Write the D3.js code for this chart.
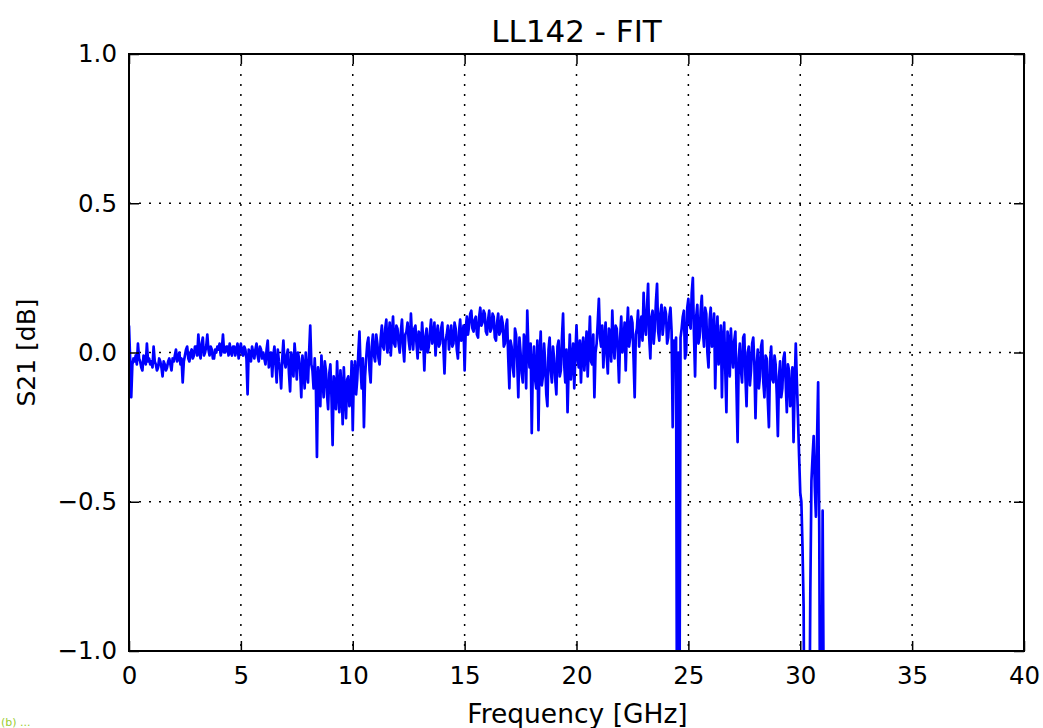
<!DOCTYPE html>
<html>
<head>
<meta charset="utf-8">
<script src="https://cdn.jsdelivr.net/npm/d3@7/dist/d3.min.js"></script>
<style>
  html, body { margin: 0; padding: 0; background: #fff; }
  svg { display: block; }
  text { font-family: "DejaVu Sans", sans-serif; }
</style>
</head>
<body>
<svg id="chart" width="1043" height="728"></svg>
<script>
// ---- data ----
const title = "LL142 - FIT";
const xLabel = "Frequency [GHz]";
const yLabel = "S21 [dB]";
const xTicks = [0, 5, 10, 15, 20, 25, 30, 35, 40];
const yTicks = [-1.0, -0.5, 0.0, 0.5, 1.0];
const freqStart = 0.0;   // GHz, sweep start
const freqStep = 0.05;   // GHz, sweep step
// S21 values in dB, one per sweep point (0.00 ... 31.20 GHz), 20 per GHz row
const s21 = [
  0.09, -0.02, -0.15, -0.04, -0.02, -0.03, -0.01, -0.04, 0.03, -0.02, -0.03, -0.05, -0.06, -0.01, -0.02, -0.04, 0.03, -0.03, -0.02, -0.04,
  -0.03, -0.05, 0.02, -0.03, -0.04, -0.06, -0.05, -0.02, -0.03, -0.05, -0.08, -0.03, -0.04, -0.06, -0.05, -0.03, -0.02, -0.04, -0.06, -0.02,
  -0.03, -0.01, 0.01, -0.03, -0.02, 0.00, -0.04, -0.02, -0.10, -0.03, -0.01, 0.01, 0.02, -0.02, -0.03, 0.00, 0.01, -0.02, -0.01, 0.02,
  0.02, -0.01, 0.06, 0.00, -0.02, 0.03, 0.05, -0.01, 0.00, 0.02, 0.06, 0.01, -0.01, 0.02, 0.01, -0.02, -0.02, 0.01, 0.00, 0.02,
  0.01, 0.03, -0.01, 0.01, 0.06, 0.00, 0.00, 0.02, 0.02, -0.01, 0.03, 0.00, -0.01, 0.02, 0.02, -0.01, 0.01, 0.03, -0.02, 0.01,
  0.03, 0.00, -0.01, 0.02, 0.01, -0.02, -0.14, 0.01, 0.00, -0.03, 0.02, 0.00, -0.02, 0.01, 0.03, -0.01, -0.03, 0.02, 0.01, -0.02,
  0.00, -0.02, -0.04, 0.01, 0.04, -0.05, -0.02, 0.00, -0.08, -0.01, 0.02, -0.04, -0.10, 0.01, -0.03, -0.06, -0.12, -0.02, 0.04, -0.03,
  -0.05, -0.01, 0.01, -0.07, -0.13, 0.00, -0.03, -0.08, 0.03, -0.02, -0.09, 0.00, -0.02, -0.06, -0.15, -0.01, -0.05, -0.12, 0.00, -0.07,
  -0.10, 0.00, 0.09, -0.04, -0.06, -0.12, -0.02, -0.10, -0.35, -0.05, -0.08, -0.18, -0.01, -0.09, -0.15, -0.03, -0.06, -0.14, -0.19, -0.07,
  -0.04, -0.15, -0.31, -0.08, -0.10, -0.19, -0.03, -0.13, -0.20, -0.06, -0.12, -0.24, -0.05, -0.14, -0.22, -0.09, -0.08, -0.18, -0.16, -0.03,
  -0.26, -0.07, -0.03, -0.14, -0.09, 0.00, 0.07, -0.05, -0.12, -0.02, -0.25, -0.08, -0.02, 0.03, 0.05, -0.06, -0.10, 0.02, 0.06, -0.01,
  -0.03, 0.06, 0.03, -0.02, -0.04, 0.05, 0.09, 0.02, 0.01, 0.08, 0.11, 0.00, 0.04, 0.10, -0.01, 0.06, 0.12, 0.03, 0.02, 0.09,
  0.08, 0.03, 0.00, 0.07, 0.11, 0.02, -0.03, 0.06, 0.07, 0.10, 0.04, 0.01, 0.13, 0.05, 0.01, 0.08, 0.09, 0.03, -0.02, 0.07,
  0.06, 0.01, 0.10, 0.04, -0.06, 0.05, 0.08, 0.00, 0.02, 0.07, 0.11, 0.03, 0.05, 0.10, -0.01, 0.06, 0.09, 0.02, 0.03, 0.08,
  0.10, 0.02, -0.07, 0.04, 0.06, 0.09, 0.01, 0.05, 0.09, 0.02, 0.03, 0.10, 0.08, 0.01, -0.02, 0.07, 0.11, 0.04, 0.05, 0.09,
  -0.06, 0.08, 0.12, 0.06, 0.09, 0.13, 0.14, 0.08, 0.07, 0.11, 0.12, 0.06, 0.05, 0.12, 0.15, 0.09, 0.10, 0.14, 0.13, 0.07,
  0.06, 0.11, 0.14, 0.07, 0.08, 0.13, 0.12, 0.05, 0.04, 0.10, 0.13, 0.06, 0.07, 0.12, 0.10, 0.02, 0.03, 0.09, 0.11, -0.02,
  -0.12, 0.04, 0.02, -0.05, -0.08, 0.08, 0.06, -0.03, -0.15, 0.05, 0.00, -0.07, -0.10, 0.06, 0.04, -0.12, 0.14, 0.01, -0.05, 0.03,
  -0.27, -0.04, 0.02, -0.09, -0.12, 0.04, -0.26, -0.02, 0.07, -0.11, -0.08, 0.03, -0.03, -0.14, -0.18, 0.01, 0.05, -0.06, -0.10, 0.02,
  -0.02, -0.09, -0.14, 0.02, 0.04, -0.08, -0.06, 0.05, 0.13, -0.04, -0.10, 0.01, -0.20, -0.05, 0.06, -0.09, -0.03, 0.03, -0.12, -0.01,
  0.09, -0.02, -0.05, 0.04, -0.10, 0.01, 0.05, -0.06, 0.00, 0.07, -0.08, 0.02, 0.12, -0.03, -0.04, 0.06, -0.15, 0.00, 0.03, 0.10,
  0.18, 0.05, 0.02, 0.09, -0.05, 0.04, 0.10, -0.01, -0.07, 0.08, 0.06, -0.03, 0.14, 0.03, -0.02, 0.09, 0.08, 0.00, -0.10, 0.05,
  0.12, 0.00, 0.03, 0.10, -0.06, 0.07, 0.15, 0.02, 0.05, 0.12, 0.10, -0.02, -0.15, 0.06, 0.08, 0.14, 0.02, 0.09, 0.12, 0.04,
  0.20, 0.09, 0.06, 0.15, 0.23, 0.05, -0.02, 0.12, 0.14, 0.03, 0.08, 0.17, 0.23, 0.07, 0.04, 0.13, 0.16, 0.06, 0.10, 0.15,
  0.13, 0.03, 0.05, 0.12, 0.15, 0.07, -0.25, 0.04, 0.02, 0.05, -1.60, 0.00, -1.30, 0.05, 0.08, 0.12, 0.14, -0.02, 0.00, 0.15,
  0.18, 0.10, 0.08, 0.20, 0.25, 0.06, -0.08, 0.12, 0.16, 0.03, 0.05, 0.14, 0.19, 0.07, 0.02, 0.15, 0.13, 0.00, -0.05, 0.11,
  0.15, 0.02, 0.06, 0.13, -0.12, 0.05, 0.12, -0.04, 0.00, 0.09, -0.15, 0.04, 0.10, -0.06, -0.20, 0.07, 0.04, -0.08, 0.08, 0.00,
  -0.05, 0.04, 0.07, -0.12, -0.30, -0.02, 0.03, -0.06, -0.10, 0.05, 0.06, -0.08, -0.18, 0.00, 0.02, -0.11, -0.06, 0.03, 0.05, -0.04,
  -0.22, -0.05, 0.01, -0.12, -0.08, 0.02, 0.04, -0.10, -0.15, -0.01, -0.02, -0.16, -0.25, -0.03, 0.02, -0.09, -0.10, -0.01, -0.04, -0.14,
  -0.28, -0.08, -0.03, -0.15, -0.12, -0.02, 0.00, -0.10, -0.20, -0.04, -0.06, -0.18, -0.15, -0.05, -0.30, -0.12, 0.03, -0.10, -0.22, -0.35,
  -0.47, -0.50, -0.65, -0.85, -1.50, -1.60, -1.70, -1.50, -1.40, -0.80, -0.43, -0.35, -0.28, -0.45, -0.55, -0.30, -0.10, -0.60, -1.50, -1.60,
  -0.53, -1.20, -2.00, -2.50, -3.00
];

// ---- layout ----
const svg = d3.select("#chart");
const pL = 129, pR = 1024, pT = 54, pB = 651;
const x = d3.scaleLinear().domain([0, 40]).range([pL, pR]);
const y = d3.scaleLinear().domain([-1, 1]).range([pB, pT]);
const points = s21.map((v, i) => [freqStart + i * freqStep, v]);

svg.append("defs").append("clipPath").attr("id", "plotclip")
  .append("rect").attr("x", pL).attr("y", pT)
  .attr("width", pR - pL).attr("height", pB - pT);

// grid
const grid = svg.append("g").attr("class", "grid");
grid.selectAll("line.gx").data(xTicks.slice(1, -1)).enter().append("line")
  .attr("x1", d => x(d)).attr("x2", d => x(d))
  .attr("y1", pT).attr("y2", pB)
  .attr("stroke", "#000").attr("stroke-width", 1.5).attr("stroke-dasharray", "2,8");
grid.selectAll("line.gy").data(yTicks.slice(1, -1)).enter().append("line")
  .attr("y1", d => y(d)).attr("y2", d => y(d))
  .attr("x1", pL).attr("x2", pR)
  .attr("stroke", "#000").attr("stroke-width", 1.5).attr("stroke-dasharray", "2,8");

// data line
svg.append("path")
  .datum(points)
  .attr("clip-path", "url(#plotclip)")
  .attr("fill", "none")
  .attr("stroke", "#0000ff")
  .attr("stroke-width", 2.7)
  .attr("stroke-linejoin", "round")
  .attr("d", d3.line().x(d => x(d[0])).y(d => y(d[1])));

// axes (ticks inside, on all four sides)
const tickLen = 10;
const fmtY = d3.format(".1f");
const axB = svg.append("g").attr("transform", `translate(0,${pB})`)
  .call(d3.axisBottom(x).tickValues(xTicks).tickSizeInner(-tickLen).tickSizeOuter(0).tickPadding(16));
const axT = svg.append("g").attr("transform", `translate(0,${pT})`)
  .call(d3.axisTop(x).tickValues(xTicks).tickSizeInner(-tickLen).tickSizeOuter(0).tickFormat(""));
const axL = svg.append("g").attr("transform", `translate(${pL},0)`)
  .call(d3.axisLeft(y).tickValues(yTicks).tickSizeInner(-tickLen).tickSizeOuter(0).tickPadding(12).tickFormat(fmtY));
const axR = svg.append("g").attr("transform", `translate(${pR},0)`)
  .call(d3.axisRight(y).tickValues(yTicks).tickSizeInner(-tickLen).tickSizeOuter(0).tickFormat(""));
[axB, axT, axL, axR].forEach(a => {
  a.select(".domain").remove();
  a.selectAll(".tick line").attr("stroke", "#000").attr("stroke-width", 1.5);
  a.selectAll(".tick text").style("font-family", "'DejaVu Sans', sans-serif").style("font-size", "24.5px").style("fill", "#000");
});

// frame
svg.append("rect").attr("x", pL).attr("y", pT)
  .attr("width", pR - pL).attr("height", pB - pT)
  .attr("fill", "none").attr("stroke", "#000").attr("stroke-width", 2);

// titles
svg.append("text").attr("x", (pL + pR) / 2).attr("y", 42)
  .attr("text-anchor", "middle").style("font-size", "31px").style("fill", "#000").text(title);
svg.append("text").attr("x", (pL + pR) / 2 + 1).attr("y", 723)
  .attr("text-anchor", "middle").style("font-size", "26.5px").style("fill", "#000").text(xLabel);
svg.append("text").attr("transform", `translate(35,${(pT + pB) / 2}) rotate(-90)`)
  .attr("text-anchor", "middle").style("font-size", "25px").style("fill", "#000").text(yLabel);
svg.append("text").attr("x", 1).attr("y", 726)
  .style("font-size", "11px").style("fill", "#9acd32").text("(b) ...");
</script>
</body>
</html>
